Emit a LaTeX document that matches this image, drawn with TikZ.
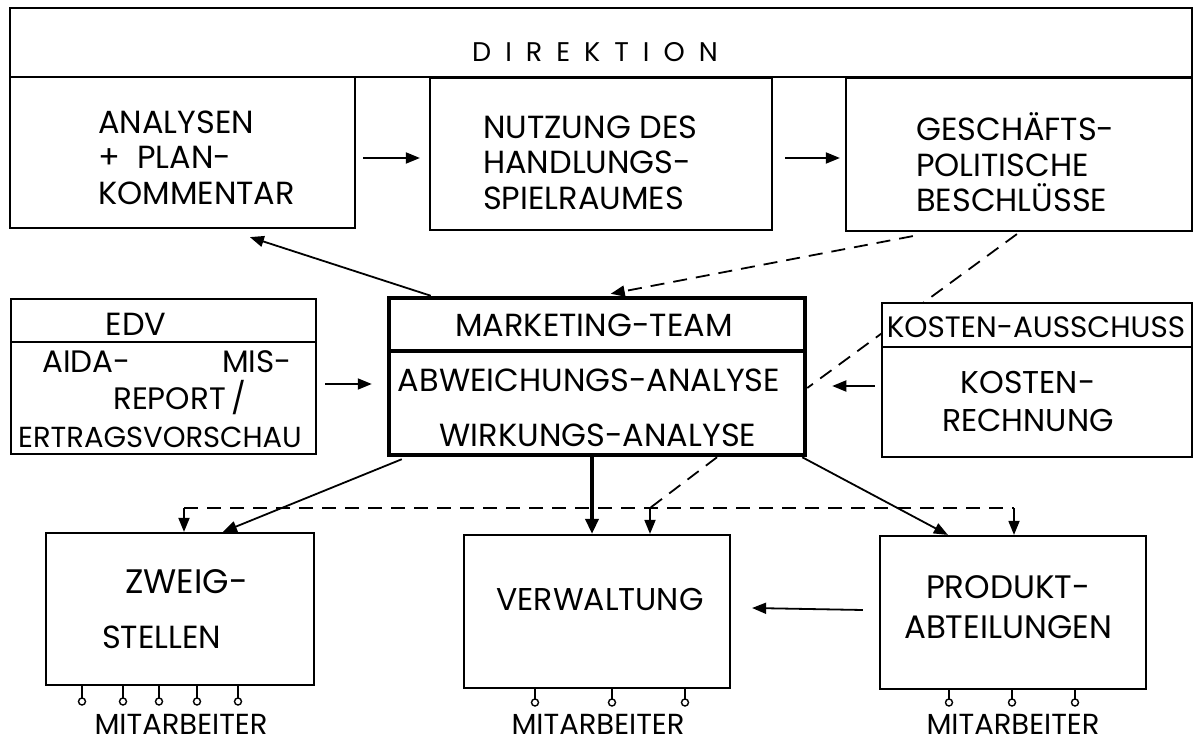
\documentclass[tikz,border=0pt]{standalone}
\usepackage{fontspec}
\setmainfont{Poppins}
\usetikzlibrary{arrows.meta,calc}
\pgfdeclarelayer{bgpaper}
\pgfdeclarelayer{background}
\pgfsetlayers{bgpaper,background,main}
\begin{document}
\begin{tikzpicture}[x=1pt,y=-1pt,
  box/.style={draw, line width=2.2pt, inner sep=0pt, fill=white},
  tbox/.style={draw, line width=4.5pt, inner sep=0pt, fill=white},
  lbl/.style={inner sep=0pt, font=\fontsize{32}{35.5}\selectfont, align=left},
  clbl/.style={inner sep=0pt, font=\fontsize{32}{38}\selectfont, align=center},
  arr/.style={line width=1.8pt, -{Triangle[length=14pt,width=11pt]}},
  tarr/.style={line width=3.5pt, -{Triangle[length=15pt,width=13pt]}},
  dsh/.style={line width=1.8pt, dash pattern=on 14pt off 9pt},
  darr/.style={dsh, -{Triangle[length=14pt,width=11pt]}},
  pin/.style={line width=1.4pt}
]
\useasboundingbox (0,0) rectangle (1203,743);
\begin{pgfonlayer}{bgpaper}
\fill[white] (0,0) rectangle (1203,743);
\end{pgfonlayer}

% boxes
\node[box, minimum width=1182pt, minimum height=69pt] (hdr) at (601,42.5) {};
\node[box, minimum width=345pt, minimum height=151pt] (b1) at (182.5,152.5) {};
\node[box, minimum width=342pt, minimum height=152pt] (b2) at (601,154) {};
\node[box, minimum width=346pt, minimum height=153pt] (b3) at (1019,154.5) {};
\node[box, minimum width=305pt, minimum height=155pt] (edv) at (163.5,376.5) {};
\node[tbox, minimum width=416pt, minimum height=157pt] (mt) at (597,376.5) {};
\node[box, minimum width=310pt, minimum height=154pt] (ko) at (1037,380) {};
\node[box, minimum width=268pt, minimum height=152pt] (zw) at (180,609) {};
\node[box, minimum width=266pt, minimum height=153pt] (vw) at (597,611.5) {};
\node[box, minimum width=266pt, minimum height=153pt] (pa) at (1013,612.5) {};

% dividers
\draw[line width=2.2pt] (11,342) -- (316,342);
\draw[line width=3.5pt] (389,351) -- (805,351);
\draw[line width=2.2pt] (882,347) -- (1192,347);

% texts
\node[inner sep=0pt, font=\fontsize{27}{30}\selectfont] (tdir) at (595,52)
  {D\hspace{14pt}I\hspace{14pt}R\hspace{14pt}E\hspace{14pt}K\hspace{14pt}T\hspace{14pt}I\hspace{14pt}O\hspace{14pt}N};
\node[lbl, anchor=west] (t1) at (98,157.5) {ANALYSEN\\+ \ PLAN-\\KOMMENTAR};
\node[lbl, anchor=west] (t2) at (483,162.5) {NUTZUNG DES\\HANDLUNGS-\\SPIELRAUMES};
\node[lbl, anchor=west] (t3) at (916,162.5) {GESCHÄFTS-\\POLITISCHE\\BESCHLÜSSE};
\node[clbl] (tedv) at (136,324) {EDV};
\node[clbl, font=\fontsize{31}{38}\selectfont, anchor=west] (taida) at (42,362) {AIDA-};
\node[clbl, font=\fontsize{31}{38}\selectfont, anchor=west] (tmis) at (222,362) {MIS-};
\node[clbl, font=\fontsize{31}{38}\selectfont, anchor=west] (trep) at (113,398) {REPORT\,/};
\node[clbl, font=\fontsize{29}{38}\selectfont] (tertr) at (160,437) {ERTRAGSVORSCHAU};
\node[clbl] (tmt) at (594,325) {MARKETING-TEAM};
\node[clbl] (tabw) at (589,380) {ABWEICHUNGS-ANALYSE};
\node[clbl] (twir) at (598,435) {WIRKUNGS-ANALYSE};
\node[clbl, font=\fontsize{29.5}{38}\selectfont] (tka) at (1036,327) {KOSTEN-AUSSCHUSS};
\node[clbl, font=\fontsize{31.5}{38}\selectfont] (tkr) at (1028,401) {KOSTEN-\\RECHNUNG};
\node[clbl, font=\fontsize{34}{38}\selectfont, anchor=west] (tzw1) at (125,582) {ZWEIG-};
\node[clbl, anchor=west] (tzw2) at (102,637) {STELLEN};
\node[clbl, font=\fontsize{31.5}{38}\selectfont] (tvw) at (600,600) {VERWALTUNG};
\node[clbl, font=\fontsize{32.5}{40}\selectfont] (tpa) at (1008,607) {PRODUKT-\\ABTEILUNGEN};
\node[clbl, font=\fontsize{29}{36}\selectfont] (m1) at (181,724) {MITARBEITER};
\node[clbl, font=\fontsize{29}{36}\selectfont] (m2) at (598,724) {MITARBEITER};
\node[clbl, font=\fontsize{29}{36}\selectfont] (m3) at (1013,724) {MITARBEITER};

% pins
\foreach \x in {82,123,159,197,238} {
  \draw[pin] (\x,685) -- (\x,698); \draw[pin] (\x,701.5) circle (3.5);}
\foreach \x in {535,612,685} {
  \draw[pin] (\x,688) -- (\x,699); \draw[pin] (\x,702.5) circle (3.5);}
\foreach \x in {949,1012,1075} {
  \draw[pin] (\x,689) -- (\x,699); \draw[pin] (\x,702.5) circle (3.5);}

% helper coordinates
\coordinate (dl) at (184,508);
\coordinate (dr) at (1014,508);
\coordinate (dm) at (650,508);

\begin{pgfonlayer}{background}
\draw[darr] ([xshift=68pt,yshift=-4pt]b3.south west) -- ([xshift=224pt,yshift=2pt]mt.north west);
\draw[dsh] ([xshift=172pt,yshift=-2pt]b3.south west) -- ([yshift=-11.5pt]mt.east);
\end{pgfonlayer}

% connectors
\draw[arr] ([xshift=7pt,yshift=-5.5pt]b1.east) -- ([xshift=-9pt,yshift=-4pt]b2.west);
\draw[arr] ([xshift=12pt,yshift=-4pt]b2.east) -- ([xshift=-5pt,yshift=-3.5pt]b3.west);
\draw[arr] ([xshift=44pt]mt.north west) -- ([xshift=241pt,yshift=-8pt]b1.south west);
\draw[arr] ([xshift=8pt,yshift=-7.5pt]edv.east) -- ([xshift=-15pt,yshift=-7.5pt]mt.west);
\draw[arr] ([xshift=-6pt,yshift=-6pt]ko.west) -- ([xshift=25pt,yshift=-9.5pt]mt.east);
\draw[arr] ([xshift=15pt,yshift=-2pt]mt.south west) -- ([xshift=178pt]zw.north west);
\draw[dsh] (dl) -- (dr);
\draw[arr] (dl) -- (dl |- zw.north);
\draw[arr] (dr) -- (dr |- pa.north);
\draw[tarr] ([xshift=-5pt]mt.south) -- ([xshift=-5pt]mt.south |- vw.north);
\draw[dsh] ([xshift=120pt]mt.south) -- (dm);
\draw[arr] (dm) -- (dm |- vw.north);
\draw[arr] ([xshift=-5pt]mt.south east) -- ([xshift=69pt]pa.north west);
\draw[arr] ([xshift=-16pt,yshift=2.5pt]pa.west) -- ([xshift=21pt,yshift=3.5pt]vw.east);
\end{tikzpicture}
\end{document}
